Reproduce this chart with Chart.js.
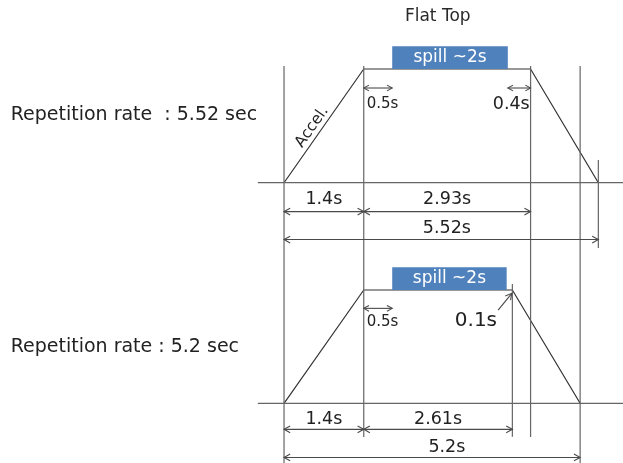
<!DOCTYPE html>
<html>
<head>
<meta charset="utf-8">
<script src="https://cdn.jsdelivr.net/npm/chart.js@4/dist/chart.umd.min.js"></script>
<style>
html, body { margin: 0; padding: 0; background: #fff; }
#wrap { width: 623px; height: 463px; }
</style>
</head>
<body>
<div id="wrap"><canvas id="cycle"></canvas></div>
<script>
// times in seconds, field level 0..1 (flat top = 1)
const cycle1Times = [0, 1.4, 4.33, 5.52];
const cycle2Times = [0, 1.4, 4.01, 5.2];
const fieldLevels = [0, 1, 1, 0];
const spill1 = [1.9, 3.93];
const spill2 = [1.9, 3.91];
const rateLabels = ['Repetition rate  : 5.52 sec', 'Repetition rate : 5.2 sec'];
const spillLabel = 'spill ~2s';

// dimension arrows: [from, to, label]
const dims1 = [[0, 1.4, '1.4s'], [1.4, 4.33, '2.93s']];
const total1 = [0, 5.52, '5.52s'];
const dims2 = [[0, 1.4, '1.4s'], [1.4, 4.01, '2.61s']];
const total2 = [0, 5.2, '5.2s'];
const delay1 = [[1.4, 1.9, '0.5s'], [3.93, 4.33, '0.4s']];
const delay2 = [[1.4, 1.9, '0.5s']];
const gap2 = [3.91, 4.01, '0.1s'];

const ink = '#333';
const guide = '#666';
const blue = '#4f81bd';
const fontName = '"DejaVu Sans", Verdana, sans-serif';

function pts(xs, ys) {
    return xs.map(function (x, i) { return { x: x, y: ys[i] }; });
}

function seg(data, axis, color, width) {
    return {
        data: data, yAxisID: axis, showLine: true, fill: false,
        borderColor: color, borderWidth: width || 1.2, pointRadius: 0, tension: 0
    };
}

function box(range, axis) {
    return {
        data: pts([range[0], range[0], range[1], range[1]], [1, 1.2, 1.2, 1]),
        yAxisID: axis, showLine: true, fill: 'shape', backgroundColor: blue,
        borderColor: blue, borderWidth: 0, pointRadius: 0, tension: 0
    };
}

const datasets = [
    seg(pts([-0.46, 5.96], [0, 0]), 'y', guide),
    seg(pts([-0.46, 5.96], [0, 0]), 'y2', guide),
    // vertical guides (drawn on the top axis, reaching down through the lower cycle)
    seg(pts([0, 0], [1.026, -2.47]), 'y', guide),
    seg(pts([1.4, 1.4], [1.026, -2.236]), 'y', guide),
    seg(pts([4.33, 4.33], [1.026, -2.236]), 'y', guide),
    seg(pts([5.2, 5.2], [1.026, -2.47]), 'y', guide),
    seg(pts([5.52, 5.52], [0.2, -0.574]), 'y', guide),
    seg(pts([4.01, 4.01], [1.053, -0.295]), 'y2', guide),
    box(spill1, 'y'),
    box(spill2, 'y2'),
    seg(pts(cycle1Times, fieldLevels), 'y', ink),
    seg(pts(cycle2Times, fieldLevels), 'y2', ink)
];

function arrowHead(ctx, x1, y1, x2, y2, size) {
    let a = Math.atan2(y2 - y1, x2 - x1);
    ctx.beginPath();
    ctx.moveTo(x2 - size * Math.cos(a - 0.5), y2 - size * Math.sin(a - 0.5));
    ctx.lineTo(x2, y2);
    ctx.lineTo(x2 - size * Math.cos(a + 0.5), y2 - size * Math.sin(a + 0.5));
    ctx.stroke();
}

function arrow(ctx, x1, y1, x2, y2, both, size) {
    ctx.beginPath();
    ctx.moveTo(x1, y1);
    ctx.lineTo(x2, y2);
    ctx.stroke();
    arrowHead(ctx, x1, y1, x2, y2, size);
    if (both) arrowHead(ctx, x2, y2, x1, y1, size);
}

function text(ctx, str, x, y, size, color, align) {
    ctx.font = size + 'px ' + fontName;
    ctx.fillStyle = color || '#222';
    ctx.textAlign = align || 'center';
    ctx.textBaseline = 'middle';
    ctx.fillText(str, x, y);
}

const annotations = {
    id: 'annotations',
    afterDatasetsDraw(chart) {
        const ctx = chart.ctx;
        const sx = chart.scales.x;
        const X = function (v) { return sx.getPixelForValue(v); };
        const Y1 = function (v) { return chart.scales.y.getPixelForValue(v); };
        const Y2 = function (v) { return chart.scales.y2.getPixelForValue(v); };
        ctx.save();
        ctx.strokeStyle = '#4a4a4a';
        ctx.lineWidth = 1.1;

        // upper cycle
        text(ctx, 'Flat Top', X(2.7), Y1(1.459), 17, '#2a2a2a');
        text(ctx, rateLabels[0], X(-4.8), Y1(0.596), 19, '#222', 'left');
        text(ctx, spillLabel, X((spill1[0] + spill1[1]) / 2), Y1(1.1), 17, '#fff');
        dims1.forEach(function (d) {
            arrow(ctx, X(d[0]), Y1(-0.254), X(d[1]), Y1(-0.254), true, 7);
            text(ctx, d[2], X((d[0] + d[1]) / 2), Y1(-0.149), 17.5);
        });
        arrow(ctx, X(total1[0]), Y1(-0.5), X(total1[1]), Y1(-0.5), true, 7);
        text(ctx, total1[2], X(2.86), Y1(-0.4), 17.5);
        arrow(ctx, X(delay1[0][0]), Y1(0.833), X(delay1[0][1]), Y1(0.833), true, 6);
        text(ctx, delay1[0][2], X(1.73), Y1(0.693), 15);
        arrow(ctx, X(delay1[1][0]), Y1(0.833), X(delay1[1][1]), Y1(0.833), true, 6);
        text(ctx, delay1[1][2], X(3.99), Y1(0.684), 17.5);

        // "Accel." along the rising ramp
        ctx.save();
        ctx.translate(X(0.49), Y1(0.49));
        ctx.rotate(-Math.atan2(Y1(0) - Y1(1), X(1.4) - X(0)));
        text(ctx, 'Accel.', 0, 0, 15.5);
        ctx.restore();

        // lower cycle
        text(ctx, rateLabels[1], X(-4.8), Y2(0.496), 19, '#222', 'left');
        text(ctx, spillLabel, X((spill2[0] + spill2[1]) / 2), Y2(1.1), 17, '#fff');
        dims2.forEach(function (d) {
            arrow(ctx, X(d[0]), Y2(-0.23), X(d[1]), Y2(-0.23), true, 7);
            text(ctx, d[2], X((d[0] + d[1]) / 2), Y2(-0.142), 17.5);
        });
        arrow(ctx, X(total2[0]), Y2(-0.478), X(total2[1]), Y2(-0.478), true, 7);
        text(ctx, total2[2], X(2.86), Y2(-0.389), 17.5);
        arrow(ctx, X(delay2[0][0]), Y2(0.838), X(delay2[0][1]), Y2(0.838), true, 6);
        text(ctx, delay2[0][2], X(1.73), Y2(0.72), 15);
        arrow(ctx, X(3.76), Y2(0.823), X(gap2[1] - 0.01), Y2(0.971), false, 7);
        text(ctx, gap2[2], X(3.37), Y2(0.726), 20);

        ctx.restore();
    }
};

new Chart(document.getElementById('cycle'), {
    type: 'scatter',
    data: { datasets: datasets },
    options: {
        responsive: true,
        maintainAspectRatio: false,
        animation: false,
        layout: { padding: 0 },
        plugins: { legend: { display: false }, tooltip: { enabled: false } },
        scales: {
            x: { type: 'linear', min: -4.988, max: 5.953, display: false },
            y: { type: 'linear', min: -2.465, max: 1.607, display: false },
            y2: { type: 'linear', min: -0.527, max: 3.56, display: false }
        }
    },
    plugins: [annotations]
});
</script>
</body>
</html>
